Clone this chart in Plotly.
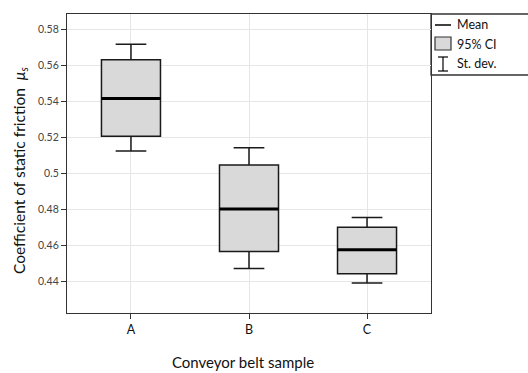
import plotly.graph_objects as go

# ---- data ----
categories = ["A", "B", "C"]
x_pos = [0, 1, 2]
mean_vals = [0.5416, 0.4804, 0.4578]
ci_low = [0.5207, 0.4568, 0.4444]
ci_high = [0.5631, 0.5048, 0.4703]
sd_low = [0.5125, 0.4474, 0.4393]
sd_high = [0.5717, 0.5144, 0.4757]
y_ticks = [0.44, 0.46, 0.48, 0.5, 0.52, 0.54, 0.56, 0.58]
y_ticklabels = ["0.44", "0.46", "0.48", "0.5", "0.52", "0.54", "0.56", "0.58"]
legend_labels = ["Mean", "95% CI", "St. dev."]
x_title = "Conveyor belt sample"
y_title = "Coefficient of static friction  <i>μ<sub>s</sub></i>"

FONT = "Lato"
BOX_FILL = "#d9d9d9"
LINE = "#1a1a1a"
half_w = 0.25

fig = go.Figure()

# boxes: 95% CI as box, st.dev as whiskers
fig.add_trace(go.Box(
    x=x_pos,
    q1=ci_low, q3=ci_high, median=mean_vals,
    lowerfence=sd_low, upperfence=sd_high,
    width=2 * half_w,
    whiskerwidth=0.52,
    fillcolor=BOX_FILL,
    line=dict(color=LINE, width=1.5),
    boxpoints=False,
    showlegend=False,
    hoverinfo="skip",
))

# thick mean lines
mx, my = [], []
for xp, m in zip(x_pos, mean_vals):
    mx += [xp - half_w, xp + half_w, None]
    my += [m, m, None]
fig.add_trace(go.Scatter(
    x=mx, y=my, mode="lines",
    line=dict(color="black", width=3),
    showlegend=False, hoverinfo="skip",
))

# ---- custom legend in the right margin (paper coords) ----
L, R, T, B = 67, 431, 14, 313
W, H = R - L, B - T
def px(x):
    return (x - L) / W
def py(y):
    return (B - y) / H

shapes = [
    dict(type="rect", xref="paper", yref="paper",
         x0=px(431), x1=px(529), y0=py(75), y1=py(14),
         line=dict(color="#333", width=1.3), fillcolor="white", layer="below"),
    # mean line symbol
    dict(type="line", xref="paper", yref="paper",
         x0=px(435), x1=px(451), y0=py(25), y1=py(25),
         line=dict(color="black", width=1.5)),
    # CI square
    dict(type="rect", xref="paper", yref="paper",
         x0=px(435), x1=px(451), y0=py(50), y1=py(37),
         line=dict(color="#333", width=1.2), fillcolor=BOX_FILL),
    # st dev symbol
    dict(type="line", xref="paper", yref="paper",
         x0=px(443), x1=px(443), y0=py(71), y1=py(57),
         line=dict(color="black", width=1.2)),
    dict(type="line", xref="paper", yref="paper",
         x0=px(438), x1=px(448), y0=py(57), y1=py(57),
         line=dict(color="black", width=1.2)),
    dict(type="line", xref="paper", yref="paper",
         x0=px(438), x1=px(448), y0=py(71), y1=py(71),
         line=dict(color="black", width=1.2)),
]

annotations = []
for lbl, yy in zip(legend_labels, [25, 44, 63]):
    annotations.append(dict(
        text=lbl, xref="paper", yref="paper", x=px(455), y=py(yy),
        xanchor="left", yanchor="middle", showarrow=False,
        font=dict(family=FONT, size=12.5, color="#111"),
    ))
# axis titles
annotations.append(dict(
    text=x_title, xref="paper", yref="paper", x=px(243), y=py(362),
    xanchor="center", yanchor="middle", showarrow=False,
    font=dict(family=FONT, size=15, color="#111"),
))
annotations.append(dict(
    text=y_title, xref="paper", yref="paper", x=px(20), y=py(171),
    xanchor="center", yanchor="middle", showarrow=False, textangle=-90,
    font=dict(family=FONT, size=15.5, color="#111"),
))

fig.update_layout(
    width=528, height=373,
    margin=dict(l=L, r=528 - R, t=T, b=373 - B, autoexpand=False),
    paper_bgcolor="white", plot_bgcolor="white",
    font=dict(family=FONT, size=10, color="#222"),
    shapes=shapes, annotations=annotations,
    showlegend=False,
)

fig.update_xaxes(
    range=[-0.542, 2.542],
    tickvals=x_pos, ticktext=categories,
    ticks="outside", ticklen=5, tickwidth=1.2, tickcolor="#333",
    showgrid=True, gridcolor="#e6e6e6", gridwidth=1,
    showline=True, linecolor="#333", linewidth=1.3, mirror=True,
    zeroline=False, automargin=False,
    tickfont=dict(family=FONT, size=12.5, color="#111"),
)
fig.update_yaxes(
    range=[0.4227, 0.5885],
    tickvals=y_ticks, ticktext=y_ticklabels,
    ticks="outside", ticklen=5, tickwidth=1.2, tickcolor="#333",
    showgrid=True, gridcolor="#e6e6e6", gridwidth=1,
    showline=True, linecolor="#333", linewidth=1.3, mirror=True,
    zeroline=False, automargin=False,
    tickfont=dict(family=FONT, size=10.5, color="#444"),
)

fig.write_html("out.html")
